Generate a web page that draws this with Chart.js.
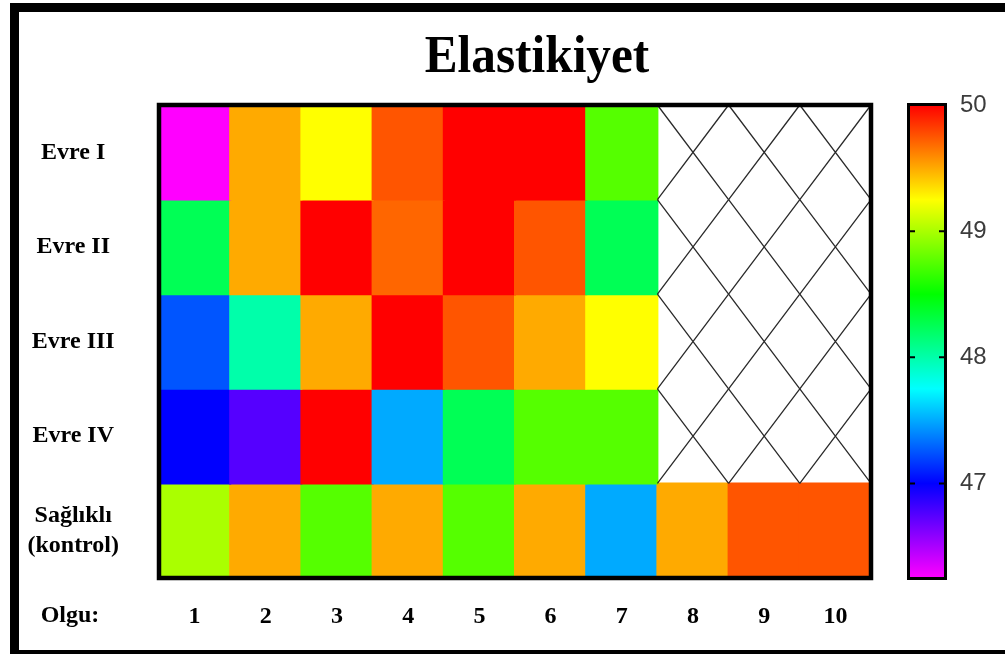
<!DOCTYPE html>
<html>
<head>
<meta charset="utf-8">
<script src="https://cdn.jsdelivr.net/npm/chart.js@4"></script>
<style>
  body { margin: 0; background: #fff; }
  canvas { display: block; }
</style>
</head>
<body>
<canvas id="elastikiyetChart" width="1005" height="654"></canvas>
<script>
// Olgu numaraları ve evreler
const olgular = ["1", "2", "3", "4", "5", "6", "7", "8", "9", "10"];
const evreler = ["Evre I", "Evre II", "Evre III", "Evre IV", ["Sağlıklı", "(kontrol)"]];

// Elastikiyet değerleri (null = ölçüm yok)
const evre1 = [46.25, 49.5, 49.25, 49.75, 50, 50, 48.75, null, null, null];
const evre2 = [48.25, 49.5, 50, 49.7, 50, 49.75, 48.25, null, null, null];
const evre3 = [47.25, 48.0, 49.5, 50, 49.75, 49.5, 49.25, null, null, null];
const evre4 = [47.0, 46.75, 50, 47.5, 48.25, 48.75, 48.75, null, null, null];
const saglikli = [49.0, 49.5, 48.75, 49.5, 48.75, 49.5, 47.5, 49.5, 49.75, 49.75];

// Renk skalası
const renkMin = 46.25;
const renkMax = 50;
const renkTicks = [47, 48, 49, 50];

const satirlar = [evre1, evre2, evre3, evre4, saglikli];

// değer -> ton (kırmızı 0° ... mor 300°)
function tonu(v) {
  const t = (renkMax - v) / (renkMax - renkMin);
  return Math.max(0, Math.min(300, t * 300));
}
function renk(v) {
  return "hsl(" + tonu(v) + ", 100%, 50%)";
}

const datasets = satirlar.map((satir, r) => ({
  label: Array.isArray(evreler[r]) ? evreler[r].join(" ") : evreler[r],
  data: satir.map((v) => (v === null ? null : [r, r + 1])),
  backgroundColor: satir.map((v) => (v === null ? "rgba(0,0,0,0)" : renk(v))),
  borderWidth: 0,
  inflateAmount: 1,
  grouped: false,
  barPercentage: 1,
  categoryPercentage: 1,
}));

const serifFont = "'Liberation Serif', 'Times New Roman', serif";

const cizimler = {
  id: "cizimler",
  beforeDraw(chart) {
    const ctx = chart.ctx;
    ctx.save();
    ctx.fillStyle = "#fff";
    ctx.fillRect(0, 0, chart.width, chart.height);
    ctx.restore();
  },
  afterDatasetsDraw(chart) {
    const ctx = chart.ctx;
    const xs = chart.scales.x;
    const ys = chart.scales.y;
    const yarim = xs.width / olgular.length / 2;
    ctx.save();
    // boş hücrelere çapraz çizgiler
    ctx.strokeStyle = "#2a2a2a";
    ctx.lineWidth = 1.3;
    satirlar.forEach((satir, r) => {
      satir.forEach((v, c) => {
        if (v !== null) return;
        const x0 = xs.getPixelForValue(c) - yarim;
        const x1 = xs.getPixelForValue(c) + yarim;
        const y0 = ys.getPixelForValue(r);
        const y1 = ys.getPixelForValue(r + 1);
        ctx.beginPath();
        ctx.moveTo(x0, y0);
        ctx.lineTo(x1, y1);
        ctx.moveTo(x1, y0);
        ctx.lineTo(x0, y1);
        ctx.stroke();
      });
    });
    // grafik çerçevesi
    const a = chart.chartArea;
    ctx.strokeStyle = "#000";
    ctx.lineWidth = 4.5;
    ctx.strokeRect(a.left, a.top, a.right - a.left, a.bottom - a.top);
    ctx.restore();
  },
  afterDraw(chart) {
    const ctx = chart.ctx;
    const rs = chart.scales.renk;
    const yUst = rs.getPixelForValue(renkMax);
    const yAlt = rs.getPixelForValue(renkMin);
    const xSol = 910;
    const xSag = 944;
    ctx.save();

    // renk çubuğu
    const grad = ctx.createLinearGradient(0, yUst, 0, yAlt);
    for (let h = 0; h <= 300; h += 60) {
      grad.addColorStop(h / 300, "hsl(" + h + ", 100%, 50%)");
    }
    ctx.fillStyle = grad;
    ctx.fillRect(xSol, yUst, xSag - xSol, yAlt - yUst);
    ctx.strokeStyle = "#000";
    ctx.lineWidth = 3;
    ctx.strokeRect(xSol - 1.5, yUst - 0.5, xSag - xSol + 3, yAlt - yUst + 1);
    ctx.lineWidth = 2;
    renkTicks.forEach((t) => {
      if (t === renkMax) return;
      const y = rs.getPixelForValue(t);
      ctx.beginPath();
      ctx.moveTo(xSol, y);
      ctx.lineTo(xSol + 5, y);
      ctx.moveTo(xSag - 5, y);
      ctx.lineTo(xSag, y);
      ctx.stroke();
    });

    // başlık
    ctx.fillStyle = "#000";
    ctx.textAlign = "center";
    ctx.textBaseline = "alphabetic";
    ctx.save();
    ctx.translate(537, 72);
    ctx.scale(0.93, 1);
    ctx.font = "bold 53px " + serifFont;
    ctx.fillText("Elastikiyet", 0, 0);
    ctx.restore();

    // "Olgu:" etiketi
    ctx.font = "bold 24px " + serifFont;
    ctx.textBaseline = "middle";
    ctx.fillText("Olgu:", 70, 616);

    // dış çerçeve
    ctx.strokeStyle = "#000";
    ctx.lineWidth = 9;
    ctx.strokeRect(14.5, 7.5, 1010, 647);
    ctx.restore();
  },
};

const ctx = document.getElementById("elastikiyetChart").getContext("2d");

new Chart(ctx, {
  type: "bar",
  data: { labels: olgular, datasets: datasets },
  options: {
    responsive: false,
    animation: false,
    layout: { padding: { top: 105, left: 0, right: 0, bottom: 0 } },
    plugins: {
      legend: { display: false },
      title: { display: false },
      tooltip: { enabled: false },
    },
    scales: {
      x: {
        grid: { display: false, drawTicks: false },
        border: { display: false },
        ticks: {
          color: "#000",
          padding: 24,
          font: { family: serifFont, size: 24, weight: "bold" },
        },
        afterFit(scale) {
          scale.height = 76;
        },
      },
      y: {
        type: "linear",
        min: 0,
        max: 5,
        reverse: true,
        // tickLength etiketleri sola iter, çizgiler gizli
        grid: { display: false, drawTicks: true, tickLength: 36 },
        border: { display: false },
        ticks: {
          color: "#000",
          padding: 4,
          crossAlign: "center",
          font: { family: serifFont, size: 24, weight: "bold", lineHeight: 1.25 },
          callback: (value) => evreler[Math.floor(value)],
        },
        afterBuildTicks(scale) {
          scale.ticks = evreler.map((_, i) => ({ value: i + 0.5 }));
        },
        afterFit(scale) {
          scale.width = 159;
        },
      },
      renk: {
        type: "linear",
        position: "right",
        min: renkMin,
        max: renkMax,
        grid: { display: false, drawTicks: true, tickLength: 85 },
        border: { display: false },
        ticks: {
          color: "#3c3c3c",
          padding: 4,
          font: { family: "'Liberation Sans', Arial, sans-serif", size: 24 },
        },
        afterBuildTicks(scale) {
          scale.ticks = renkTicks.map((v) => ({ value: v }));
        },
        afterFit(scale) {
          scale.width = 134;
        },
      },
    },
  },
  plugins: [cizimler],
});
</script>
</body>
</html>
